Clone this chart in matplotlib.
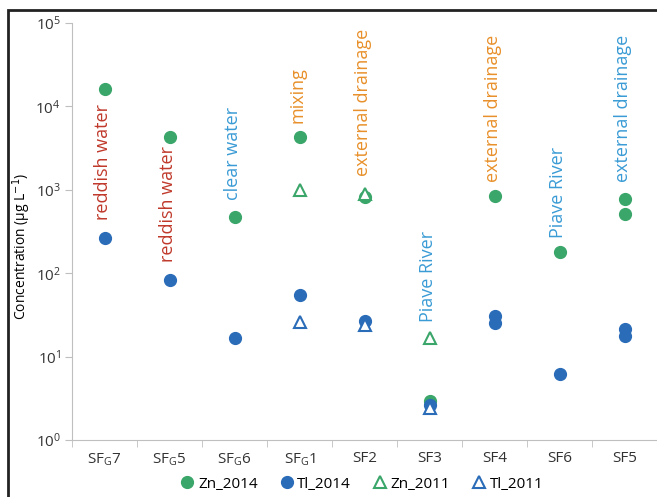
import matplotlib
matplotlib.use("Agg")
import matplotlib.pyplot as plt
from matplotlib.patches import Rectangle
from matplotlib.ticker import FixedLocator, NullLocator

plt.rcParams['font.family'] = ['Open Sans', 'DejaVu Sans']

# sampling sites (x axis)
sites = [r'SF$_\mathregular{G}$7', r'SF$_\mathregular{G}$5', r'SF$_\mathregular{G}$6',
         r'SF$_\mathregular{G}$1', 'SF2', 'SF3', 'SF4', 'SF6', 'SF5']

# Zn 2014 (site index, value)
zn2014_site = [0, 1, 2, 3, 4, 5, 6, 7, 8, 8]
zn2014_val = [16200, 4350, 475, 4250, 830, 2.9, 850, 180, 780, 510]

# Tl 2014
tl2014_site = [0, 1, 2, 3, 4, 5, 6, 6, 7, 8, 8]
tl2014_val = [265, 83, 16.5, 55, 27, 2.6, 31, 25, 6.2, 21.5, 17.5]

# Zn 2011
zn2011_site = [3, 4, 5]
zn2011_val = [1000, 900, 16.5]

# Tl 2011
tl2011_site = [3, 4, 5]
tl2011_val = [26, 24, 2.4]

# water type labels
note_site = [0, 1, 2, 3, 4, 5, 6, 7, 8]
note_text = ['reddish water', 'reddish water', 'clear water', 'mixing',
             'external drainage', 'Piave River', 'external drainage',
             'Piave River', 'external drainage']
note_y = [440, 137, 760, 6300, 1450, 26, 1250, 265, 1250]
note_color = ['#c0392b', '#c0392b', '#3a9bd5', '#e8902a', '#e8902a',
              '#3a9bd5', '#e8902a', '#3a9bd5', '#3a9bd5']

green = '#3aa66a'
blue = '#2b6cb8'

fig = plt.figure(figsize=(6.57, 4.97), dpi=100)
ax = fig.add_axes([72 / 657, 57 / 497, 585 / 657, 417 / 497])

ax.plot(zn2014_site, zn2014_val, 'o', color=green, ms=8.5, label='Zn_2014')
ax.plot(tl2014_site, tl2014_val, 'o', color=blue, ms=8.5, label='Tl_2014')
ax.plot(zn2011_site, zn2011_val, '^', mfc='white', mec=green, mew=1.5, ms=9, label='Zn_2011')
ax.plot(tl2011_site, tl2011_val, '^', mfc='white', mec=blue, mew=1.5, ms=9, label='Tl_2011')

for s, t, y, c in zip(note_site, note_text, note_y, note_color):
    ax.text(s - 0.03, y, t, rotation=90, ha='center', va='bottom', color=c, fontsize=13)

ax.set_yscale('log')
ax.set_ylim(1, 1e5)
ax.yaxis.set_minor_locator(NullLocator())
ax.set_xlim(-0.5, 8.5)
ax.set_xticks(range(len(sites)))
ax.set_xticklabels(sites, fontsize=11)
ax.xaxis.set_minor_locator(FixedLocator([i - 0.5 for i in range(len(sites) + 1)]))
ax.tick_params(axis='x', which='major', length=0, pad=8, colors='#333333')
ax.tick_params(axis='x', which='minor', length=5, color='#bfbfbf')
ax.tick_params(axis='y', which='major', length=5, pad=3, color='#bfbfbf', labelsize=11, labelcolor='#333333')

for side in ['top', 'right']:
    ax.spines[side].set_visible(False)
for side in ['left', 'bottom']:
    ax.spines[side].set_color('#bfbfbf')

ax.set_ylabel('Concentration (µg L$^{-1}$)', fontsize=10)
ax.yaxis.set_label_coords(-0.066, 0.465)

fig.legend(loc='center', bbox_to_anchor=(361 / 657, 1 - 484 / 497), ncol=4, frameon=False,
           fontsize=11, handletextpad=0.1, columnspacing=1.3, handlelength=1.2)

# outer frame of the figure
fig.patches.append(Rectangle((8 / 657, -0.05), 1.2, 1 - 10 / 497 + 0.05, transform=fig.transFigure,
                             fill=False, edgecolor='#222222', linewidth=2))

fig.savefig('out.png', dpi=100)
